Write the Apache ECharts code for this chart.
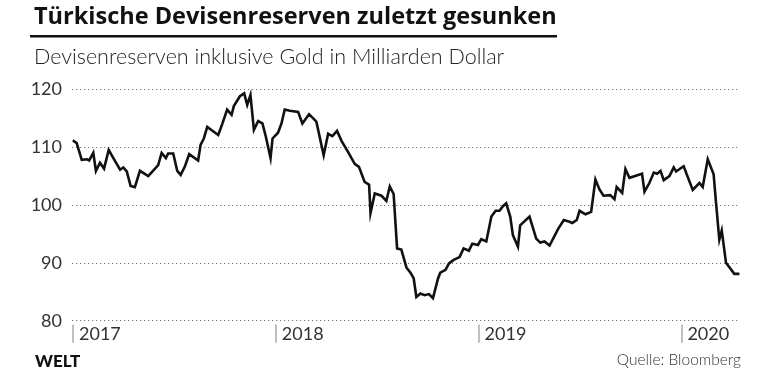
<!DOCTYPE html>
<html><head><meta charset="utf-8">
<script src="https://cdn.jsdelivr.net/npm/echarts@6/dist/echarts.min.js"></script>
<style>html,body{margin:0;padding:0;background:#fff}#c{width:780px;height:373px}</style>
</head><body><div id="c"></div>
<script>
// decimal years
const years = [2016.999,2017.018,2017.043,2017.070,2017.080,2017.100,2017.113,2017.133,2017.153,2017.176,
2017.199,2017.232,2017.248,2017.265,2017.284,2017.305,2017.330,2017.371,2017.420,2017.437,
2017.458,2017.469,2017.494,2017.514,2017.531,2017.552,2017.573,2017.617,2017.629,2017.645,
2017.662,2017.716,2017.737,2017.760,2017.782,2017.793,2017.823,2017.844,2017.859,2017.875,
2017.892,2017.913,2017.934,2017.951,2017.974,2017.984,2018.011,2018.028,2018.044,2018.069,
2018.110,2018.131,2018.164,2018.200,2018.236,2018.258,2018.279,2018.302,2018.324,2018.356,
2018.389,2018.410,2018.438,2018.460,2018.467,2018.488,2018.521,2018.545,2018.562,2018.581,
2018.598,2018.619,2018.644,2018.664,2018.680,2018.693,2018.713,2018.734,2018.755,2018.775,
2018.800,2018.811,2018.837,2018.854,2018.877,2018.906,2018.926,2018.952,2018.969,2018.997,
2019.013,2019.038,2019.063,2019.084,2019.103,2019.120,2019.136,2019.156,2019.169,2019.194,
2019.205,2019.251,2019.284,2019.304,2019.325,2019.350,2019.391,2019.420,2019.448,2019.462,
2019.484,2019.498,2019.527,2019.555,2019.576,2019.596,2019.616,2019.649,2019.670,2019.681,
2019.708,2019.724,2019.744,2019.806,2019.818,2019.842,2019.864,2019.880,2019.897,2019.913,
2019.941,2019.962,2019.974,2020.011,2020.056,2020.089,2020.105,2020.130,2020.159,2020.171,
2020.187,2020.199,2020.220,2020.261,2020.286];
// reserves incl. gold, bn USD
const reserves = [111.2,110.7,107.8,107.9,107.7,109.0,105.9,107.3,106.3,109.5,
108.1,106.1,106.5,105.8,103.3,103.1,105.9,105.0,106.9,109.0,
108.1,108.9,108.9,105.9,105.2,106.7,108.8,107.7,110.4,111.5,
113.5,112.1,114.1,116.5,115.6,117.1,118.8,119.3,117.3,119.0,
113.0,114.5,114.1,111.8,108.1,111.5,112.5,114.1,116.5,116.3,
116.1,114.1,115.7,114.4,108.6,112.3,111.9,112.8,111.1,109.2,
107.1,106.6,104.0,103.5,98.6,102.0,101.6,100.7,103.2,101.9,
92.5,92.3,89.2,88.3,87.3,84.1,84.7,84.4,84.6,83.9,
87.3,88.3,88.8,89.9,90.5,91.0,92.5,92.1,93.3,93.1,
94.1,93.7,98.0,99.0,99.0,99.8,100.3,98.0,94.8,92.8,
96.5,98.0,94.2,93.5,93.7,93.0,95.8,97.4,97.1,96.9,
97.4,99.0,98.4,98.8,104.4,102.7,101.6,101.7,101.0,103.1,
102.1,106.2,104.7,105.4,102.3,103.8,105.6,105.4,105.9,104.3,
105.0,106.5,105.8,106.7,102.6,103.8,103.1,107.9,105.3,100.3,
94.0,95.6,90.0,88.1,88.1];
const yearTicks = [2017, 2018, 2019, 2020];
const titleText = 'Türkische Devisenreserven zuletzt gesunken';
const subtitleText = 'Devisenreserven inklusive Gold in Milliarden Dollar';
const sourceText = 'Quelle: Bloomberg';
const brandText = 'WELT';

const chart = echarts.init(document.getElementById('c'), null, {renderer: 'canvas'});
const FONT = 'Lato';
chart.setOption({
  animation: false,
  backgroundColor: '#fff',
  title: [
    {text: titleText, left: 29, top: 0, textStyle: {fontFamily: 'Open Sans', fontWeight: 'bold', fontSize: 23.5, color: '#111'}},
    {text: subtitleText, left: 29, top: 41, textStyle: {fontFamily: FONT, fontWeight: 300, fontSize: 21.5, color: '#222'}},
    {text: brandText, left: 30, top: 348, textStyle: {fontFamily: FONT, fontWeight: 900, fontSize: 17, color: '#111'}},
    {text: sourceText, right: 34, top: 347, textStyle: {fontFamily: FONT, fontWeight: 300, fontSize: 15.5, color: '#333'}}
  ],
  graphic: [{type: 'rect', shape: {x: 30, y: 35, width: 527, height: 2.5}, style: {fill: '#111'}}],
  grid: {left: 72, right: 40, top: 89.3, bottom: 52.3, containLabel: false},
  xAxis: {
    type: 'value', min: 2016.995, max: 2020.289, offset: 4,
    axisLine: {show: false}, splitLine: {show: false},
    axisTick: {show: true, customValues: yearTicks, length: 18, inside: false, lineStyle: {color: '#aaa', width: 1.5}},
    axisLabel: {customValues: yearTicks, formatter: v => String(Math.round(v)), align: 'left', padding: [0,0,0,6], margin: 0,
      fontFamily: FONT, fontSize: 18, color: '#333', lineHeight: 18}
  },
  yAxis: {
    type: 'value', min: 80, max: 120, interval: 10,
    axisLine: {show: false}, axisTick: {show: false},
    axisLabel: {fontFamily: FONT, fontSize: 18, color: '#333', margin: 10},
    splitLine: {show: true, lineStyle: {color: '#777', width: 1.2, type: [1.2, 2.8]}}
  },
  series: [{
    type: 'line', data: years.map((y, i) => [y, reserves[i]]), showSymbol: false,
    lineStyle: {color: '#111', width: 2.6, join: 'miter'}, silent: true
  }]
});
</script></body></html>
